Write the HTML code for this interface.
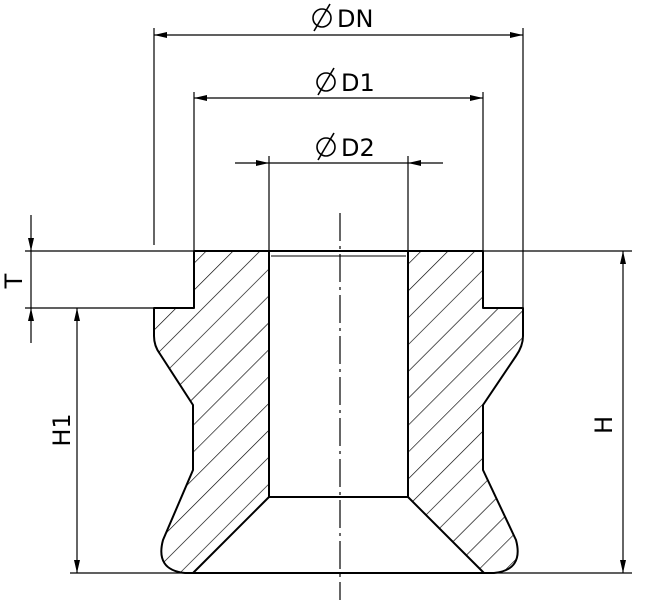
<!DOCTYPE html>
<html><head><meta charset="utf-8"><style>html,body{margin:0;padding:0;background:#fff}svg{display:block}</style></head>
<body>
<svg width="650" height="600" viewBox="0 0 650 600" xmlns="http://www.w3.org/2000/svg">
<defs>
<pattern id="h" width="19" height="19" patternUnits="userSpaceOnUse" patternTransform="rotate(45)">
<line x1="0" y1="0" x2="0" y2="19" stroke="#000" stroke-width="1.3"/>
</pattern>
<marker id="a" viewBox="0 0 13 6" refX="13" refY="3" markerWidth="13" markerHeight="6" orient="auto" markerUnits="userSpaceOnUse">
<path d="M0,0 L13,3 L0,6 z" fill="#000"/></marker>
</defs>
<g stroke="#000" fill="none">
<g stroke-width="1.2">
<line x1="154" y1="28" x2="154" y2="245"/>
<line x1="523" y1="28" x2="523" y2="308"/>
<line x1="194" y1="92" x2="194" y2="251"/>
<line x1="483" y1="92" x2="483" y2="251"/>
<line x1="269" y1="156" x2="269" y2="251"/>
<line x1="408" y1="156" x2="408" y2="251"/>
<line x1="25" y1="251" x2="632" y2="251"/>
<line x1="25" y1="308" x2="154" y2="308"/>
<line x1="70" y1="573" x2="632" y2="573"/>
</g>
<g stroke-width="1.2">
<line x1="340" y1="35" x2="523" y2="35" marker-end="url(#a)"/>
<line x1="340" y1="35" x2="154" y2="35" marker-end="url(#a)"/>
<line x1="340" y1="98" x2="483" y2="98" marker-end="url(#a)"/>
<line x1="340" y1="98" x2="194" y2="98" marker-end="url(#a)"/>
<line x1="235" y1="163" x2="269" y2="163" marker-end="url(#a)"/>
<line x1="443" y1="163" x2="408" y2="163" marker-end="url(#a)"/>
<line x1="269" y1="163" x2="408" y2="163"/>
<line x1="31" y1="215" x2="31" y2="251" marker-end="url(#a)"/>
<line x1="31" y1="251" x2="31" y2="308"/>
<line x1="31" y1="343" x2="31" y2="308" marker-end="url(#a)"/>
<line x1="77" y1="440" x2="77" y2="308" marker-end="url(#a)"/>
<line x1="77" y1="440" x2="77" y2="573" marker-end="url(#a)"/>
<line x1="623" y1="410" x2="623" y2="251" marker-end="url(#a)"/>
<line x1="623" y1="410" x2="623" y2="573" marker-end="url(#a)"/>
</g>
<g stroke-width="2" fill="url(#h)" stroke-linejoin="round">
<path d="M194,251 L194,308 L154,308 L154,336 Q154,346 160,354 L193,405 L193,470 L163,540 Q155,570 185,573 L193,573 L269,497 L269,251 Z"/>
<path d="M483,251 L483,308 L523,308 L523,336 Q523,346 516,356 L483,405 L483,470 L516,540 Q524,570 494,573 L484,573 L408,497 L408,251 Z"/>
</g>
<g stroke-width="2">
<line x1="269" y1="497" x2="408" y2="497"/>
<line x1="193" y1="573" x2="484" y2="573"/>
<line x1="269" y1="251" x2="408" y2="251"/>
<line x1="271" y1="256" x2="406" y2="256" stroke-width="1"/>
</g>
<line x1="340" y1="213" x2="340" y2="600" stroke-width="1.2" stroke-dasharray="28,5,3,5"/>
<g stroke-width="1.6">
<circle cx="322" cy="18" r="9"/><line x1="314" y1="31" x2="330" y2="4"/>
<circle cx="326" cy="82" r="9"/><line x1="318" y1="95" x2="334" y2="68"/>
<circle cx="326" cy="147" r="9"/><line x1="318" y1="160" x2="334" y2="133"/>
</g>
</g>
<g font-family="'DejaVu Sans','Liberation Sans',sans-serif" font-size="24" fill="#000">
<text x="337" y="27">DN</text>
<text x="341" y="91">D1</text>
<text x="341" y="156">D2</text>
<text transform="translate(22,281) rotate(-90)" text-anchor="middle">T</text>
<text transform="translate(70,430) rotate(-90)" text-anchor="middle">H1</text>
<text transform="translate(612,425) rotate(-90)" text-anchor="middle">H</text>
</g>
</svg>
</body></html>
